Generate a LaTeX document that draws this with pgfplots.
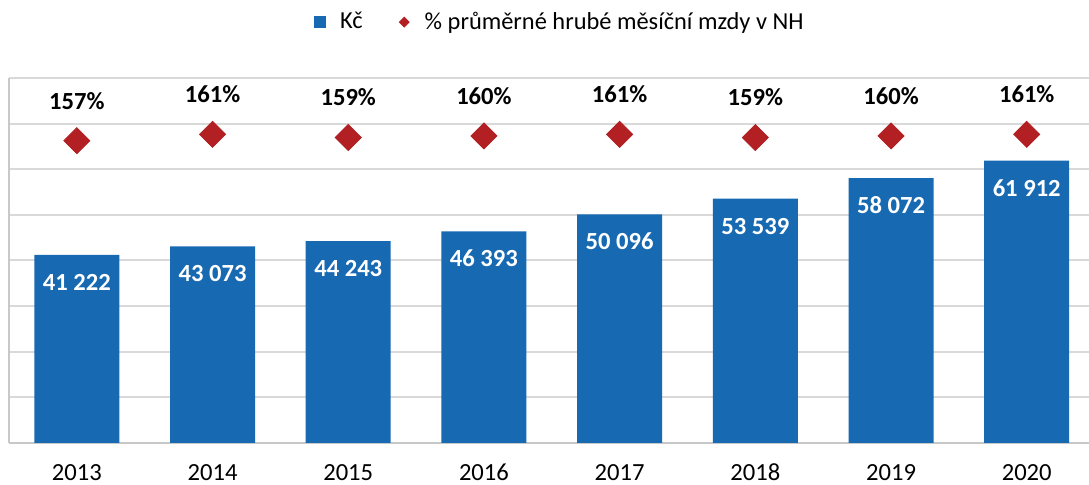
\documentclass[border=0pt]{standalone}
\usepackage{fontspec}
\setmainfont{Carlito}
\usepackage{pgfplots}
\pgfplotsset{compat=1.18}
\definecolor{barblue}{RGB}{23,105,178}
\definecolor{diared}{RGB}{178,32,36}
\definecolor{gridgray}{RGB}{217,217,217}
\definecolor{axisgray}{RGB}{200,200,200}
\pgfplotsset{/pgf/number format/assume math mode=true}
\begin{document}
\begin{tikzpicture}[x=1pt,y=1pt]
\path[use as bounding box] (0,0) rectangle (544.5,242.5);
\begin{axis}[
  at={(4.5pt,21pt)}, anchor=south west,
  scale only axis, width=540pt, height=182.5pt,
  xmin=-0.5, xmax=7.459, ymin=0, ymax=80000,
  ytick={0,10000,...,80000}, yticklabels={}, scaled y ticks=false,
  ymajorgrids, grid style={gridgray, line width=1pt},
  axis x line*=bottom, axis y line*=left,
  axis line style={axisgray, line width=1pt},
  major tick length=0pt,
  xtick={0,...,7},
  xticklabels={\textnormal{2013},\textnormal{2014},\textnormal{2015},\textnormal{2016},\textnormal{2017},\textnormal{2018},\textnormal{2019},\textnormal{2020}},
  xticklabel style={anchor=base, yshift=-19pt, inner sep=0pt, font=\fontsize{12.3}{14}\selectfont},
  ybar, bar width=42.5pt,
  nodes near coords,
  nodes near coords style={anchor=base, yshift=-17.75pt, text=white,
     font=\bfseries\fontsize{12.3}{14}\selectfont, /pgf/number format/1000 sep={\ }},
  legend style={at={(axis description cs:0.511,1.153)}, anchor=center, draw=none,
     legend columns=2, font=\fontsize{12.2}{14}\selectfont,
     /tikz/every even column/.append style={column sep=16pt}},
]
\addplot[fill=barblue, draw=none,
  legend image code/.code={\fill[barblue] (0pt,-3pt) rectangle (6pt,3pt); \path[draw=none,fill=none] (0pt,-0.1pt) rectangle (11pt,0.1pt);}]
  coordinates {(0,41222) (1,43073) (2,44243) (3,46393) (4,50096) (5,53539) (6,58072) (7,61912)};
\addlegendentry{Kč}
\addlegendimage{legend image code/.code={\fill[diared,draw=none] (0pt,0pt)--(2.75pt,2.75pt)--(5.5pt,0pt)--(2.75pt,-2.75pt)--cycle; \path[draw=none,fill=none] (0pt,-0.1pt) rectangle (11pt,0.1pt);}}
\addlegendentry{\% průměrné hrubé měsíční mzdy v NH}
\end{axis}
\begin{axis}[
  at={(4.5pt,21pt)}, anchor=south west,
  scale only axis, width=540pt, height=182.5pt,
  xmin=-0.5, xmax=7.459, ymin=-31.9, ymax=196.2,
  hide axis,
  nodes near coords={\pgfmathprintnumber{\pgfplotspointmeta}\%},
  nodes near coords style={anchor=base, yshift=15.85pt, text=black,
     font=\bfseries\fontsize{12.3}{14}\selectfont},
]
\addplot[only marks, mark=square*, mark size=4.6pt,
  mark options={rotate=45, fill=diared, draw=diared}]
  coordinates {(0,157) (1,161) (2,159) (3,160) (4,161) (5,159) (6,160) (7,161)};
\end{axis}
\end{tikzpicture}
\end{document}
